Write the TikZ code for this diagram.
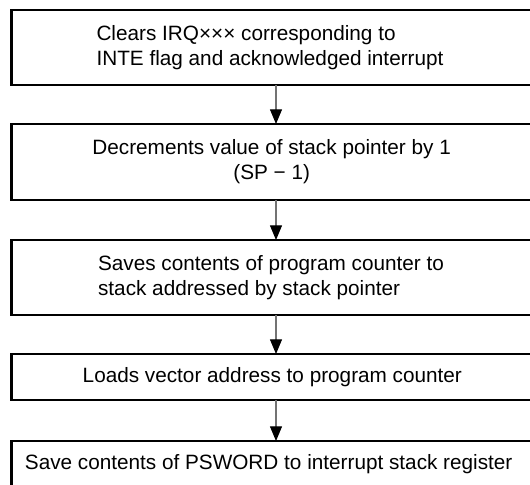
\documentclass[tikz,border=0pt]{standalone}
\usepackage{fontspec}
\setmainfont{Liberation Sans}
\usetikzlibrary{arrows.meta}

\begin{document}
\begin{tikzpicture}[
  procbox/.style={draw,line width=2pt,minimum width=15.87cm,inner sep=0pt,outer sep=0pt},
  boxtext/.style={font=\fontsize{17.7pt}{21.3pt}\selectfont,inner sep=0pt},
  flowarrow/.style={draw=black!55,line width=1pt,-{Triangle[length=0.44cm,width=0.36cm,color=black]}}
]
\useasboundingbox (0,0) rectangle (15.9,-14.55);
\clip (0,0) rectangle (15.9,-14.55);

\node[procbox,minimum height=2.25cm] (clear) at (8.28,-1.425) {};
\node[procbox,minimum height=2.28cm] (decsp) at (8.28,-4.86) {};
\node[procbox,minimum height=2.25cm] (savepc) at (8.28,-8.325) {};
\node[procbox,minimum height=1.38cm] (loadvec) at (8.28,-11.31) {};
\node[procbox,minimum height=1.38cm] (saveps) at (8.28,-13.92) {};

\node[boxtext,align=left] (clear-t) at (8.10,-1.425) {Clears IRQ××× corresponding to\\INTE flag and acknowledged interrupt};
\node[boxtext,align=center] (decsp-t) at (8.15,-4.86) {Decrements value of stack pointer by 1\\(SP − 1)};
\node[boxtext,align=left] (savepc-t) at (8.13,-8.325) {Saves contents of program counter to\\stack addressed by stack pointer};
\node[boxtext] (loadvec-t) at (8.17,-11.31) {Loads vector address to program counter};
\node[boxtext] (saveps-t) at (8.06,-13.92) {Save contents of PSWORD to interrupt stack register};

\draw[flowarrow] (clear.south) -- (decsp.north);
\draw[flowarrow] (decsp.south) -- (savepc.north);
\draw[flowarrow] (savepc.south) -- (loadvec.north);
\draw[flowarrow] (loadvec.south) -- (saveps.north);
\end{tikzpicture}
\end{document}
